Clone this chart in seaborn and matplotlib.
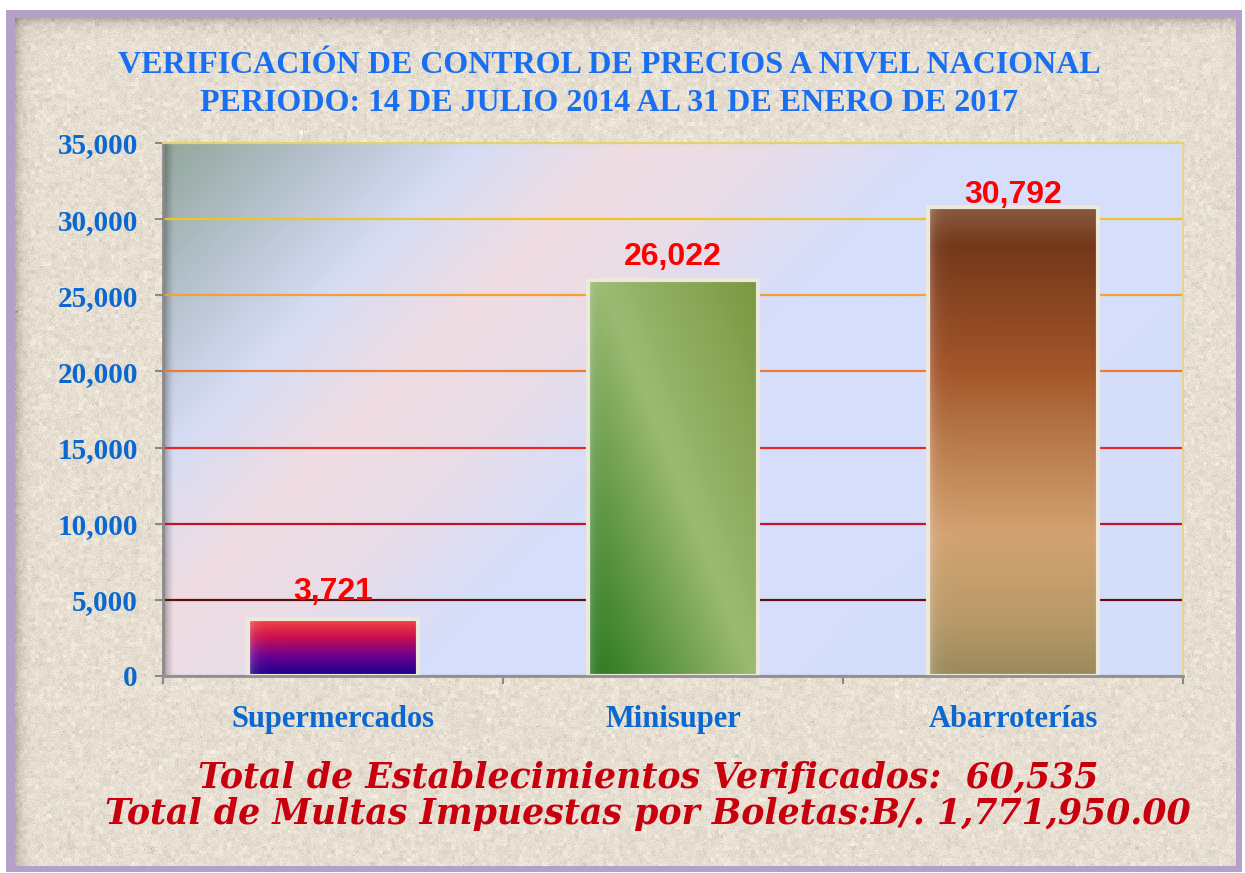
"""Verificación de control de precios a nivel nacional (bar chart, seaborn)."""
import matplotlib

matplotlib.use("Agg")
import matplotlib.pyplot as plt
import numpy as np
import seaborn as sns
from matplotlib.colors import LinearSegmentedColormap, to_rgb

categories = ["Supermercados", "Minisuper", "Abarroterías"]
verificados = [3721, 26022, 30792]
value_labels = ["3,721", "26,022", "30,792"]
label_offsets = [1250, 950, 250]
y_ticks = [0, 5000, 10000, 15000, 20000, 25000, 30000, 35000]
y_tick_labels = ["0", "5,000", "10,000", "15,000", "20,000", "25,000", "30,000", "35,000"]
grid_colors = ["#909090", "#5e1010", "#c01428", "#e62a22", "#f07a30", "#f2a232", "#f0c428", "#e6d070"]
title_lines = ["VERIFICACIÓN DE CONTROL DE PRECIOS A NIVEL NACIONAL",
               "PERIODO: 14 DE JULIO 2014 AL 31 DE ENERO DE 2017"]
footer_lines = ["Total de Establecimientos Verificados:  60,535",
                "Total de Multas Impuestas por Boletas:B/. 1,771,950.00"]

W, H = 1245, 873
BLUE = "#1a6ef0"
TICK_BLUE = "#0a68d0"


def cmap_from(stops):
    return LinearSegmentedColormap.from_list("", stops)


def page_background():
    img = np.ones((H, W, 3))
    purple = np.array(to_rgb("#b4a0c8"))
    img[10:872, 6:1242] = purple
    rng = np.random.default_rng(11)
    h, w = 866 - 18, 1236 - 15
    base = np.array(to_rgb("#e6dfd2"))
    coarse = rng.normal(0, 1, (h // 4 + 1, w // 4 + 1))
    coarse = np.kron(coarse, np.ones((4, 4)))[:h, :w]
    fine = rng.normal(0, 1, (h, w))
    tex = base[None, None, :] + (0.018 * coarse + 0.022 * fine)[..., None]
    specks = rng.random((h, w)) > 0.996
    tex[specks] -= 0.12
    # soft inner shadow on top / left
    yy = np.arange(h)[:, None]
    xx = np.arange(w)[None, :]
    shade = 0.18 * np.exp(-yy / 6.0) + 0.18 * np.exp(-xx / 6.0)
    tex = tex - shade[..., None]
    img[18:866, 15:1236] = np.clip(tex, 0, 1)
    return img


fig = plt.figure(figsize=(W / 100, H / 100), dpi=100)
bg = fig.add_axes([0, 0, 1, 1], zorder=-10)
bg.imshow(page_background(), extent=[0, W, H, 0], aspect="auto", interpolation="bilinear")
bg.set_xlim(0, W)
bg.set_ylim(H, 0)
bg.axis("off")

ax = fig.add_axes([163 / W, 1 - 676 / H, (1183 - 163) / W, (676 - 143) / H])
sns.barplot(x=categories, y=verificados, ax=ax, width=0.5, color="#888888",
            saturation=1, edgecolor="#ece8dc", linewidth=3)

# plot area gradient
pw, ph = 1020, 533
gx, gy = np.meshgrid(np.linspace(0, pw, 300), np.linspace(ph, 0, 160))
d = (gx + gy) / (pw + ph)
area_cmap = cmap_from([(0.0, "#92a89c"), (0.1, "#b4c0cc"), (0.2, "#d6dcf4"),
                       (0.3, "#efdce2"), (0.38, "#eadce6"), (0.5, "#d6defa"),
                       (1.0, "#d4defb")])
ax.imshow(area_cmap(d), extent=[-0.5, 2.5, 0, 35000], aspect="auto",
          origin="lower", zorder=0.1, interpolation="bilinear")
# shadow along left spine
sh = np.zeros((2, 40, 4))
sh[..., 3] = np.linspace(0.5, 0, 40)[None, :] ** 1.5
ax.imshow(sh, extent=[-0.5, -0.5 + 3 * 12 / pw, 0, 35000], aspect="auto", zorder=0.2)

# bar gradients
super_cmap = cmap_from([(0, "#14008c"), (0.35, "#6a0090"), (0.7, "#d0104c"), (1, "#f24a40")])
abarr_cmap = cmap_from([(0, "#9a8a5c"), (0.12, "#b89a68"), (0.3, "#d4a272"), (0.5, "#b87a4a"),
                        (0.65, "#a4562a"), (0.92, "#74381a"), (1, "#8a5a3e")])
mini_cmap = cmap_from([(0, "#26761c"), (0.515, "#9cba72"), (1, "#7a9840")])

for i, patch in enumerate(ax.patches):
    x0, y0 = patch.get_x(), patch.get_y()
    w, h = patch.get_width(), patch.get_height()
    v = np.linspace(0, 1, 256)[:, None]
    u = np.linspace(0, 1, 64)[None, :]
    if i == 0:
        rgba = super_cmap(np.repeat(v, 64, axis=1))
    elif i == 1:
        t = (237 * 172 * u + 94 * 395 * v) / 77894
        rgba = mini_cmap(np.clip(t, 0, 1))
    else:
        rgba = abarr_cmap(np.repeat(v, 64, axis=1))
    # light left edge
    edge = np.exp(-u * 30)[..., None] * 0.25
    rgba[..., :3] = rgba[..., :3] * (1 - edge) + edge
    ax.imshow(rgba, extent=[x0, x0 + w, y0, y0 + h], aspect="auto", origin="lower",
              zorder=patch.get_zorder() - 0.01, interpolation="bilinear")
    patch.set_facecolor("none")

for i, (v, lbl, off) in enumerate(zip(verificados, value_labels, label_offsets)):
    ax.text(i, v + off, lbl, ha="center", va="baseline", fontsize=23, fontweight="bold",
            family="Liberation Sans", color="#ff0000", zorder=5)

ax.set_xlim(-0.5, 2.5)
ax.set_ylim(0, 35000)
ax.set_yticks(y_ticks)
ax.set_yticklabels(y_tick_labels)
ax.set_axisbelow(True)
ax.grid(axis="y", linewidth=1.6)
for line, c in zip(ax.yaxis.get_gridlines(), grid_colors):
    line.set_color(c)
    line.set_zorder(0.5)
ax.set_xlabel("")
ax.set_ylabel("")

for lbl in ax.get_yticklabels():
    lbl.set_fontfamily("Liberation Serif")
    lbl.set_fontweight("bold")
    lbl.set_fontsize(21)
    lbl.set_color(TICK_BLUE)
for lbl in ax.get_xticklabels():
    lbl.set_fontfamily("Liberation Serif")
    lbl.set_fontweight("bold")
    lbl.set_fontsize(22)
    lbl.set_color(TICK_BLUE)

ax.tick_params(axis="y", direction="out", length=6, width=1.5, color="#888888", pad=12)
ax.tick_params(axis="x", which="major", length=0, pad=21)
ax.set_xticks([-0.5, 0.5, 1.5, 2.5], minor=True)
ax.tick_params(axis="x", which="minor", direction="out", length=6, width=1.5, color="#888888")

ax.spines["left"].set_color("#8a8a8a")
ax.spines["left"].set_linewidth(2)
ax.spines["bottom"].set_color("#909090")
ax.spines["bottom"].set_linewidth(2)
ax.spines["top"].set_color("#e6d070")
ax.spines["top"].set_linewidth(1.5)
ax.spines["right"].set_color("#e8d48c")
ax.spines["right"].set_linewidth(1.5)

fig.text(609 / W, 1 - 73 / H, title_lines[0], ha="center", va="baseline", fontsize=23,
         fontweight="bold", family="Liberation Serif", color=BLUE)
fig.text(609 / W, 1 - 111 / H, title_lines[1], ha="center", va="baseline", fontsize=23,
         fontweight="bold", family="Liberation Serif", color=BLUE)

fig.text(648 / W, 1 - 788 / H, footer_lines[0], ha="center", va="baseline", fontsize=25,
         style="italic", fontweight="bold", family="DejaVu Serif", color="#c8000e")
fig.text(648 / W, 1 - 824 / H, footer_lines[1], ha="center", va="baseline", fontsize=25,
         style="italic", fontweight="bold", family="DejaVu Serif", color="#c8000e")

fig.savefig("out.png", dpi=100)
